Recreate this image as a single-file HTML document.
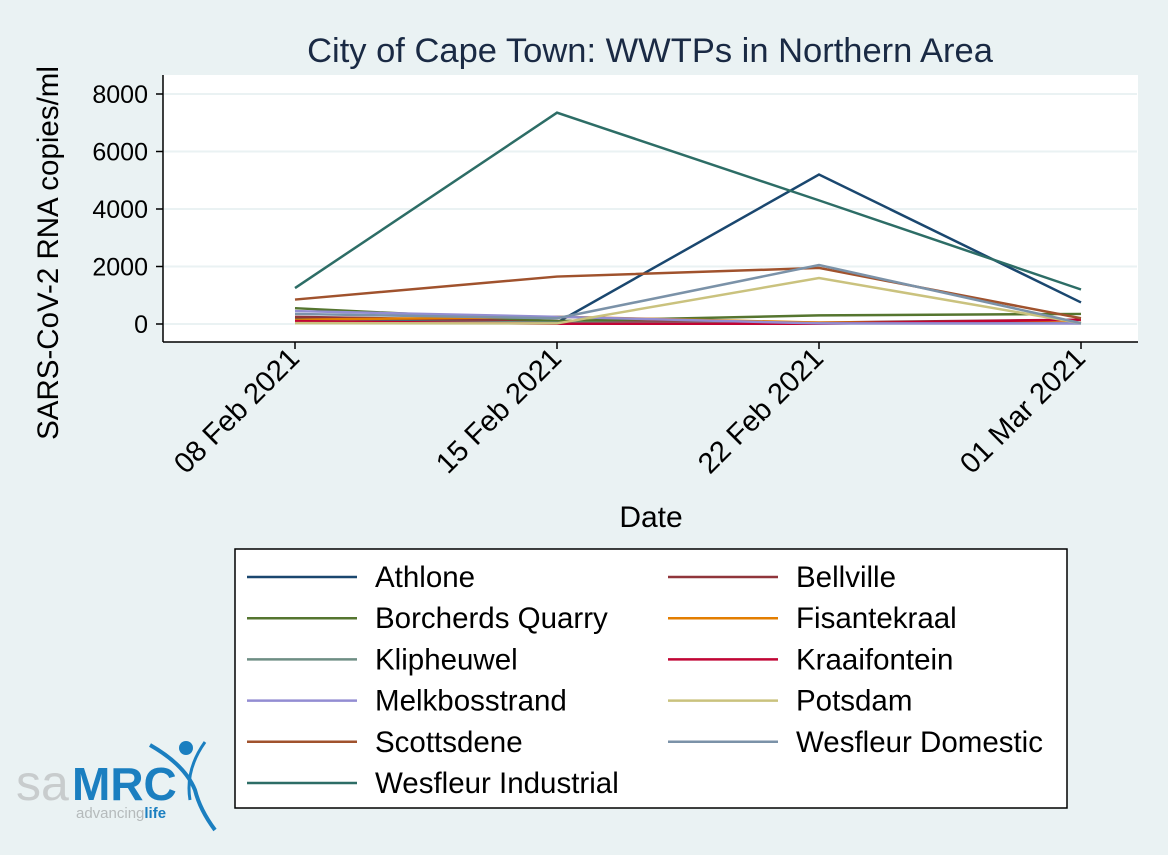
<!DOCTYPE html>
<html><head><meta charset="utf-8"><style>
body{margin:0;background:#eaf2f3;font-family:"Liberation Sans",sans-serif;}
</style></head><body>
<svg id="c" width="1168" height="850" xmlns="http://www.w3.org/2000/svg">
<rect width="1168" height="850" fill="#eaf2f3"/>
<rect x="163" y="75" width="975" height="267" fill="#fff"/>
<line x1="163" y1="75" x2="163" y2="342" stroke="#000" stroke-width="1.5"/>
<line x1="163" y1="342" x2="1138" y2="342" stroke="#000" stroke-width="1.5"/>
<text x="650" y="62" font-size="34.5" text-anchor="middle" fill="#1a2a44">City of Cape Town: WWTPs in Northern Area</text>
<text transform="translate(58,253) rotate(-90)" font-size="29.5" text-anchor="middle" fill="#000">SARS-CoV-2 RNA copies/ml</text>
<text x="651" y="527" font-size="30" text-anchor="middle">Date</text>
<g id="grid"></g><g id="axes"></g><g id="lines"></g>
<rect x="235" y="549" width="832" height="259" fill="#fff" stroke="#000" stroke-width="1.5"/>
<g id="legend"></g>
<g>
<text x="16" y="800" font-size="50" fill="#c8cccd">sa</text>
<text x="72" y="800" font-size="46" font-weight="bold" fill="#1b7fc0">MRC</text>
<text x="76" y="818" font-size="15" fill="#b5babb">advancing<tspan fill="#1b7fc0" font-weight="bold">life</tspan></text>
<circle cx="186" cy="748" r="7" fill="#1b7fc0"/>
<path d="M150 745 Q185 765 195 790 Q200 810 215 830" stroke="#1b7fc0" stroke-width="4" fill="none"/>
<path d="M205 742 Q185 770 190 800" stroke="#1b7fc0" stroke-width="3" fill="none"/>
</g>
</svg>
<script>
const dates=["08 Feb 2021","15 Feb 2021","22 Feb 2021","01 Mar 2021"];
const yTicks=[0,2000,4000,6000,8000];
const names=["Athlone","Bellville","Borcherds Quarry","Fisantekraal","Klipheuwel","Kraaifontein","Melkbosstrand","Potsdam","Scottsdene","Wesfleur Domestic","Wesfleur Industrial"];
const colors=["#1a476f","#90353b","#55752f","#e37e00","#6e8e84","#c10534","#938dd2","#cac27e","#a0522d","#7b92a8","#2d6d66"];
const athlone=[200,50,5200,750];
const bellville=[250,100,50,150];
const borcherds=[550,100,300,350];
const fisantekraal=[150,250,50,50];
const klipheuwel=[100,50,20,20];
const kraaifontein=[100,10,10,150];
const melkbosstrand=[450,250,20,20];
const potsdam=[30,20,1600,30];
const scottsdene=[850,1650,1950,200];
const wesDomestic=[350,200,2050,30];
const wesIndustrial=[1250,7350,4300,1200];
const series=[athlone,bellville,borcherds,fisantekraal,klipheuwel,kraaifontein,melkbosstrand,potsdam,scottsdene,wesDomestic,wesIndustrial];
const NS="http://www.w3.org/2000/svg";
const x=i=>295+i*262;
const y=v=>324-v*230/8000;
function mk(t,a,p){const e=document.createElementNS(NS,t);for(const k in a)e.setAttribute(k,a[k]);p.appendChild(e);return e;}
const grid=document.getElementById('grid'),axes=document.getElementById('axes'),lines=document.getElementById('lines'),leg=document.getElementById('legend');
yTicks.forEach(v=>{
 const g=mk('line',{x1:164,x2:1137,y1:y(v),y2:y(v),stroke:'#eaf2f3','stroke-width':2},grid);
 
 
 const t=mk('line',{x1:156,x2:163,y1:y(v),y2:y(v),stroke:'#000','stroke-width':1.5},axes);
 
 
 const l=mk('text',{x:148,y:y(v)+9,'font-size':25,'text-anchor':'end'},axes);l.textContent=v;
 
 
});
dates.forEach((d,i)=>{
 const t=mk('line',{x1:x(i),x2:x(i),y1:342,y2:349,stroke:'#000','stroke-width':1.5},axes);
 
 
 const l=mk('text',{x:x(i)+6,y:360,'font-size':29,'text-anchor':'end',transform:`rotate(-45 ${x(i)+6} 360)`},axes);l.textContent=d;
 
 
});
series.forEach((s,k)=>{
 const p=mk('polyline',{points:s.map((v,i)=>x(i)+','+y(v)).join(' '),fill:'none',stroke:colors[k],'stroke-width':2.5},lines);
 
 
 const col=k%2,row=Math.floor(k/2);
 const lx=col?668:247,ly=577+row*41.2;
 const ll=mk('line',{x1:lx,x2:lx+110,y1:ly,y2:ly,stroke:colors[k],'stroke-width':2.5},leg);
 
 
 const lt=mk('text',{x:lx+128,y:ly+10,'font-size':29.5},leg);lt.textContent=names[k];
 
 
});
</script>
</body></html>
